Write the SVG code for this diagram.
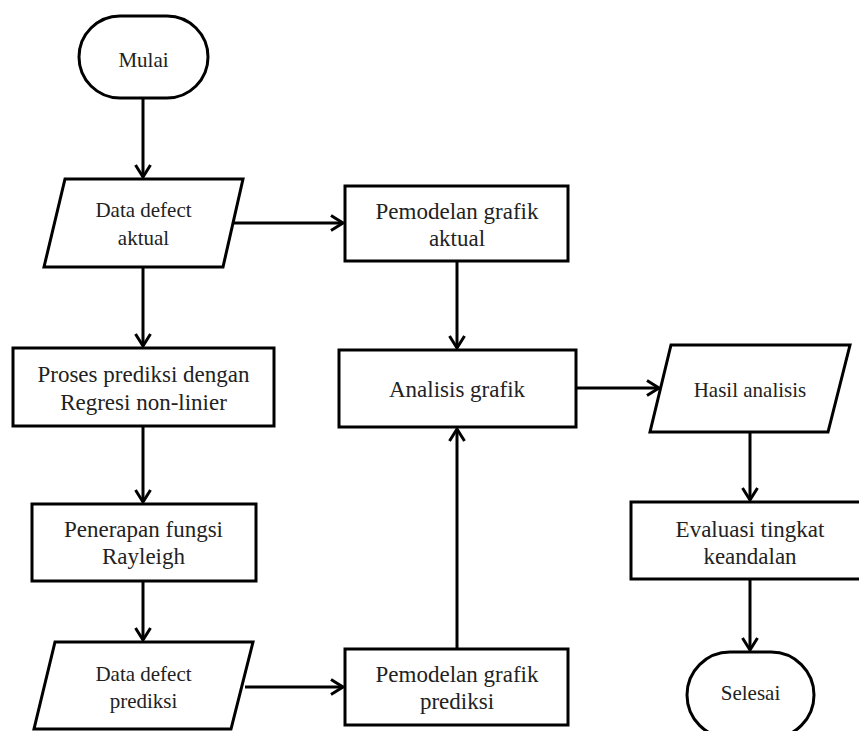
<svg xmlns="http://www.w3.org/2000/svg" width="859" height="731" viewBox="0 0 859 731">
<style>
.shape{fill:#fff;stroke:#000;stroke-width:3;stroke-linejoin:miter}
.t1{font-family:"Liberation Serif","Times New Roman",serif;font-size:21px;fill:#222;text-anchor:middle}
.t2{font-family:"Liberation Serif","Times New Roman",serif;font-size:23px;fill:#222;text-anchor:middle}
.conn{fill:none;stroke:#000;stroke-width:3}
</style>
<defs>
<marker id="ah" markerUnits="userSpaceOnUse" markerWidth="20" markerHeight="20" viewBox="-15 -10 17 20" refX="0" refY="0" orient="auto" overflow="visible">
<path d="M-12,-7.5 L0,0 L-12,7.5" fill="none" stroke="#000" stroke-width="3"/>
</marker>
</defs>
<rect width="859" height="731" fill="#fff"/>
<g id="connectors">
<line class="conn" x1="143" y1="98" x2="143" y2="177" marker-end="url(#ah)"/>
<line class="conn" x1="233" y1="223" x2="343" y2="223" marker-end="url(#ah)"/>
<line class="conn" x1="143" y1="267" x2="143" y2="346" marker-end="url(#ah)"/>
<line class="conn" x1="143" y1="426" x2="143" y2="502" marker-end="url(#ah)"/>
<line class="conn" x1="143" y1="581" x2="143" y2="640" marker-end="url(#ah)"/>
<line class="conn" x1="245" y1="687" x2="343" y2="687" marker-end="url(#ah)"/>
<line class="conn" x1="457" y1="261" x2="457" y2="348" marker-end="url(#ah)"/>
<line class="conn" x1="457" y1="649" x2="457" y2="429" marker-end="url(#ah)"/>
<line class="conn" x1="576" y1="388" x2="659" y2="388" marker-end="url(#ah)"/>
<line class="conn" x1="750" y1="432" x2="750" y2="500" marker-end="url(#ah)"/>
<line class="conn" x1="750" y1="579" x2="750" y2="650" marker-end="url(#ah)"/>
</g>
<g id="mulai">
<rect class="shape" x="79" y="16" width="129" height="82" rx="41" ry="41"/>
<text class="t1" x="143.5" y="67">Mulai</text>
</g>
<g id="data-aktual">
<polygon class="shape" points="65,179 243,179 223,267 44,267"/>
<text class="t1" x="143.5" y="217">Data defect</text>
<text class="t1" x="143.5" y="245">aktual</text>
</g>
<g id="pemodelan-aktual">
<rect class="shape" x="345" y="186" width="223" height="75"/>
<text class="t2" x="457" y="219">Pemodelan grafik</text>
<text class="t2" x="457" y="246">aktual</text>
</g>
<g id="proses">
<rect class="shape" x="13" y="348" width="261" height="78"/>
<text class="t2" x="143.5" y="382">Proses prediksi dengan</text>
<text class="t2" x="143.5" y="410">Regresi non-linier</text>
</g>
<g id="analisis">
<rect class="shape" x="339" y="350" width="237" height="77"/>
<text class="t2" x="457" y="397">Analisis grafik</text>
</g>
<g id="hasil">
<polygon class="shape" points="671,345 850,345 828,432 650,432"/>
<text class="t1" x="750" y="397">Hasil analisis</text>
</g>
<g id="penerapan">
<rect class="shape" x="32" y="504" width="224" height="77"/>
<text class="t2" x="143.5" y="537">Penerapan fungsi</text>
<text class="t2" x="143.5" y="564">Rayleigh</text>
</g>
<g id="evaluasi">
<rect class="shape" x="631" y="502" width="238" height="77"/>
<text class="t2" x="750" y="537">Evaluasi tingkat</text>
<text class="t2" x="750" y="564">keandalan</text>
</g>
<g id="data-prediksi">
<polygon class="shape" points="55,642 253,642 231,729 34,729"/>
<text class="t1" x="143.5" y="681">Data defect</text>
<text class="t1" x="143.5" y="708">prediksi</text>
</g>
<g id="pemodelan-prediksi">
<rect class="shape" x="345" y="649" width="223" height="76"/>
<text class="t2" x="457" y="682">Pemodelan grafik</text>
<text class="t2" x="457" y="709">prediksi</text>
</g>
<g id="selesai">
<rect class="shape" x="687" y="652" width="127" height="86" rx="43" ry="43"/>
<text class="t1" x="750.5" y="700">Selesai</text>
</g>
</svg>
